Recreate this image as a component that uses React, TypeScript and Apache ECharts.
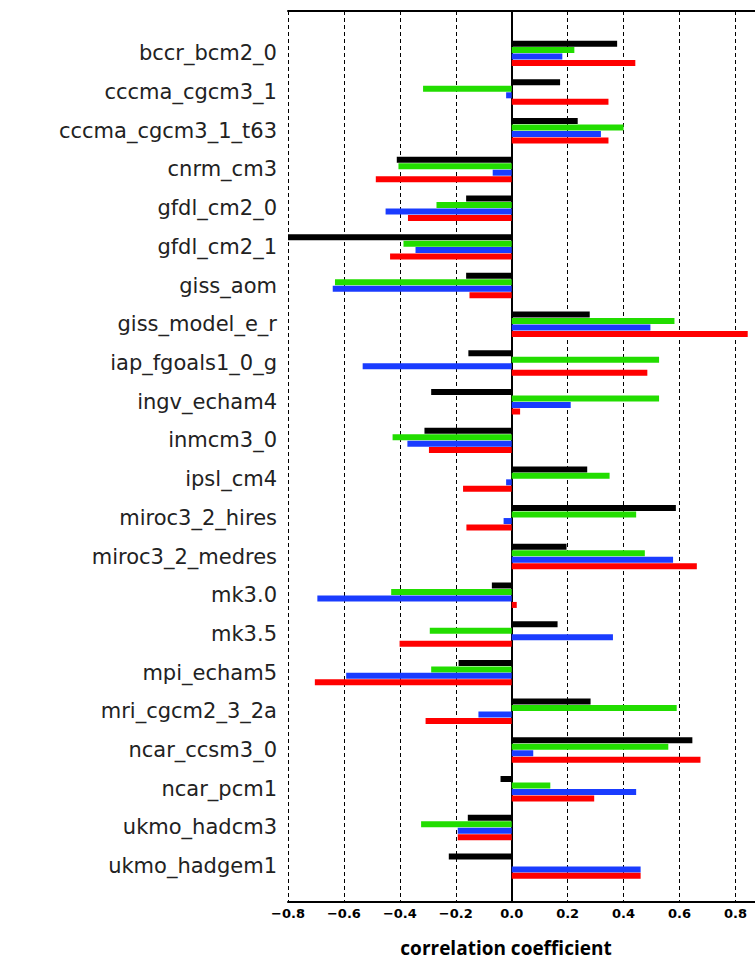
import React, { useEffect, useRef } from "react";
import * as echarts from "echarts";

const models = [
  "bccr_bcm2_0", "cccma_cgcm3_1", "cccma_cgcm3_1_t63", "cnrm_cm3", "gfdl_cm2_0", "gfdl_cm2_1",
  "giss_aom", "giss_model_e_r", "iap_fgoals1_0_g", "ingv_echam4", "inmcm3_0", "ipsl_cm4",
  "miroc3_2_hires", "miroc3_2_medres", "mk3.0", "mk3.5", "mpi_echam5", "mri_cgcm2_3_2a",
  "ncar_ccsm3_0", "ncar_pcm1", "ukmo_hadcm3", "ukmo_hadgem1",
];

const blackValues = [
  0.377, 0.173, 0.236, -0.411, -0.163, -0.8, -0.163, 0.279, -0.155, -0.288, -0.312,
  0.270, 0.587, 0.196, -0.071, 0.164, -0.190, 0.282, 0.646, -0.040, -0.157, -0.225,
];
const greenValues = [
  0.224, -0.317, 0.400, -0.405, -0.269, -0.387, -0.632, 0.582, 0.527, 0.527, -0.426,
  0.350, 0.445, 0.476, -0.431, -0.293, -0.288, 0.590, 0.560, 0.138, -0.324, null,
];
const blueValues = [
  0.181, -0.020, 0.319, -0.068, -0.451, -0.344, -0.640, 0.496, -0.533, 0.211, -0.373,
  -0.020, -0.029, 0.577, -0.695, 0.362, -0.592, -0.119, 0.077, 0.445, -0.193, 0.461,
];
const redValues = [
  0.442, 0.346, 0.346, -0.486, -0.371, -0.435, -0.151, 0.844, 0.485, 0.030, -0.296,
  -0.174, -0.162, 0.662, 0.018, -0.401, -0.704, -0.308, 0.675, 0.295, -0.193, 0.461,
];

const seriesColors = ["#000000", "#22dd00", "#1a3cff", "#ff0000"];
const xTickMin = -0.8;
const xMax = 0.87;
const xInterval = 0.2;
const xTitle = "correlation coefficient";

export default function App() {
  const ref = useRef<HTMLDivElement>(null);
  useEffect(() => {
    if (!ref.current) return;
    const chart = echarts.init(ref.current, null, { renderer: "svg" });
    const allSeries = [blackValues, greenValues, blueValues, redValues];
    chart.setOption({
      animation: false,
      backgroundColor: "#ffffff",
      grid: [
        { left: 288, right: 0, top: 11, height: 891, containLabel: false },
        { left: 288, right: 0, top: 34, height: 851.5, containLabel: false },
      ],
      xAxis: [
        {
          gridIndex: 0,
          type: "value",
          min: xTickMin,
          max: xMax,
          interval: xInterval,
          position: "bottom",
          axisLine: { show: true, onZero: false, lineStyle: { color: "#000", width: 2 } },
          axisTick: { show: false },
          axisLabel: {
            showMaxLabel: false,
            margin: 5,
            fontFamily: "DejaVu Sans",
            fontWeight: "bold",
            fontSize: 13,
            color: "#000",
            formatter: (v: number) => {
              const r = Math.round(v * 10) / 10;
              if (Math.abs(v - r) > 1e-6) return "";
              return r.toFixed(1).replace("-", "\u2212");
            },
          },
          splitLine: {
            show: true,
            lineStyle: { color: "#000", width: 1, type: [4, 3] },
          },
        },
        {
          gridIndex: 0,
          type: "value",
          min: xTickMin,
          max: xMax,
          interval: xInterval,
          position: "top",
          axisLine: { show: true, onZero: false, lineStyle: { color: "#000", width: 2 } },
          axisTick: { show: false },
          axisLabel: { show: false },
          splitLine: { show: false },
        },
        {
          gridIndex: 1,
          type: "value",
          min: xTickMin,
          max: xMax,
          interval: xInterval,
          show: false,
          splitLine: { show: false },
        },
      ],
      yAxis: [
        {
          gridIndex: 0,
          type: "value",
          min: 0,
          max: 1,
          position: "left",
          axisLine: { show: true, lineStyle: { color: "#000", width: 2 } },
          axisTick: { show: false },
          axisLabel: { show: false },
          splitLine: { show: false },
        },
        {
          gridIndex: 1,
          type: "category",
          data: models,
          inverse: true,
          axisLine: { show: false },
          axisTick: { show: false },
          splitLine: { show: false },
          axisLabel: {
            margin: 11,
            fontFamily: "DejaVu Sans",
            fontSize: 21,
            color: "#222",
          },
        },
      ],
      series: allSeries.map((vals, i) => ({
        type: "bar",
        xAxisIndex: 2,
        yAxisIndex: 1,
        data: vals,
        barWidth: 6,
        barGap: "8%",
        itemStyle: { color: seriesColors[i] },
        emphasis: { disabled: true },
      })),
      graphic: [
        {
          type: "text",
          x: 506,
          y: 948,
          style: {
            text: xTitle,
            align: "center",
            verticalAlign: "middle",
            fontFamily: "Open Sans",
            fontWeight: "bold",
            fontSize: 19,
            fill: "#000",
          },
        },
      ],
    });
    return () => chart.dispose();
  }, []);
  return <div ref={ref} style={{ width: 755, height: 961, position: "absolute", left: 0, top: 0 }} />;
}
